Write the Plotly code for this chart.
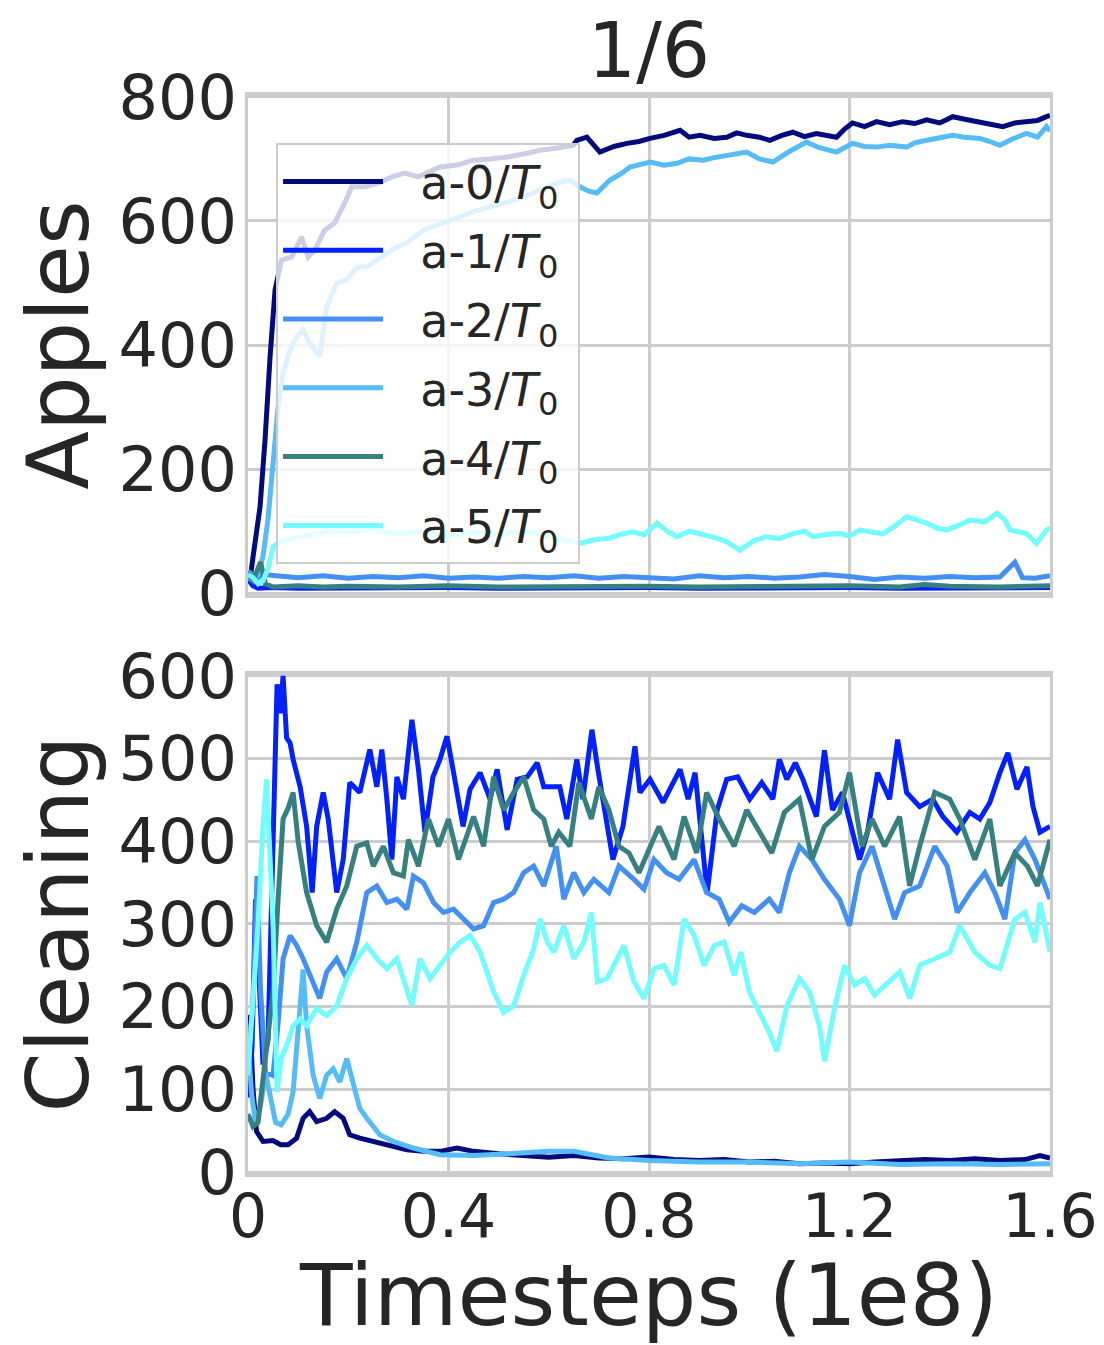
import plotly.graph_objects as go
from plotly.subplots import make_subplots

# ---------------- data ----------------
GAP = "\u2002\u2009"
AGENT_LABELS = [GAP + "a-%d/<i>T</i><sub>0</sub>\u00a0" % k for k in range(6)]
COLORS = ["#020a7c", "#0322fb", "#4490f2", "#55bcf8", "#387f7f", "#72fcfe"]

X_TICKS = [0, 0.4, 0.8, 1.2, 1.6]
X_TICK_TEXT = ["0", "0.4", "0.8", "1.2", "1.6"]
APPLES_TICKS = [0, 200, 400, 600, 800]
CLEANING_TICKS = [0, 100, 200, 300, 400, 500, 600]

# Apples (top panel): (timestep 1e8, value)
APPLES_A0 = [(0, 30), (0.005, 28), (0.01, 58), (0.017, 100), (0.024, 139), (0.034, 247), (0.04, 339),
             (0.044, 381), (0.054, 489), (0.067, 537), (0.087, 542), (0.107, 574), (0.12, 542),
             (0.133, 553), (0.153, 585), (0.173, 597), (0.193, 629), (0.207, 655), (0.233, 655),
             (0.26, 661), (0.287, 671), (0.313, 677), (0.34, 671), (0.383, 687), (0.417, 690),
             (0.45, 698), (0.483, 700), (0.517, 703), (0.55, 708), (0.583, 714), (0.62, 718),
             (0.649, 722), (0.656, 730), (0.676, 735), (0.702, 711), (0.73, 720), (0.756, 725),
             (0.78, 728), (0.802, 733), (0.83, 738), (0.862, 746), (0.88, 735), (0.902, 738),
             (0.93, 733), (0.955, 735), (0.975, 742), (0.995, 738), (1.02, 735), (1.041, 730),
             (1.065, 738), (1.087, 743), (1.11, 736), (1.134, 741), (1.155, 738), (1.174, 735),
             (1.19, 748), (1.206, 758), (1.23, 752), (1.254, 760), (1.28, 755), (1.306, 760),
             (1.33, 757), (1.354, 763), (1.38, 758), (1.406, 768), (1.43, 764), (1.454, 760),
             (1.48, 755), (1.506, 752), (1.53, 758), (1.553, 760), (1.575, 762), (1.593, 768), (1.6, 770)]
APPLES_A1 = [(0, 22), (0.01, 12), (0.02, 8), (0.05, 9), (0.1, 8), (0.2, 9), (0.3, 8), (0.4, 9),
             (0.5, 8), (0.6, 9), (0.7, 8), (0.8, 9), (0.9, 8), (1.0, 9), (1.1, 8), (1.2, 9),
             (1.3, 8), (1.4, 9), (1.5, 8), (1.6, 9)]
APPLES_A2 = [(0, 35), (0.01, 30), (0.02, 25), (0.03, 30), (0.05, 28), (0.1, 25), (0.15, 28), (0.2, 24),
             (0.25, 27), (0.3, 25), (0.35, 28), (0.4, 24), (0.45, 26), (0.5, 24), (0.55, 27), (0.6, 25),
             (0.65, 28), (0.7, 24), (0.75, 27), (0.8, 26), (0.85, 23), (0.9, 28), (0.95, 25), (1.0, 27),
             (1.05, 24), (1.1, 26), (1.15, 30), (1.2, 27), (1.25, 22), (1.3, 26), (1.35, 24), (1.4, 27),
             (1.45, 25), (1.5, 26), (1.53, 50), (1.545, 25), (1.57, 24), (1.6, 28)]
APPLES_A3 = [(0, 25), (0.01, 20), (0.02, 30), (0.03, 60), (0.04, 120), (0.05, 219), (0.06, 300),
             (0.07, 355), (0.084, 392), (0.097, 413), (0.11, 424), (0.123, 403), (0.143, 381),
             (0.157, 461), (0.177, 500), (0.197, 505), (0.217, 525), (0.237, 526), (0.263, 540),
             (0.29, 555), (0.317, 565), (0.35, 585), (0.383, 595), (0.417, 606), (0.45, 615),
             (0.483, 623), (0.517, 630), (0.55, 639), (0.583, 650), (0.616, 661), (0.642, 666),
             (0.662, 655), (0.68, 648), (0.696, 645), (0.722, 666), (0.742, 675), (0.762, 687),
             (0.782, 690), (0.802, 695), (0.83, 690), (0.856, 693), (0.88, 700), (0.908, 698),
             (0.93, 702), (0.955, 706), (0.975, 708), (0.995, 711), (1.02, 700), (1.047, 695),
             (1.08, 712), (1.114, 727), (1.14, 718), (1.174, 711), (1.206, 725), (1.23, 720),
             (1.254, 719), (1.28, 722), (1.314, 719), (1.33, 726), (1.354, 730), (1.38, 734),
             (1.406, 738), (1.43, 735), (1.46, 733), (1.48, 728), (1.5, 722), (1.525, 732),
             (1.553, 741), (1.575, 735), (1.593, 752), (1.6, 745)]
APPLES_A4 = [(0, 30), (0.01, 20), (0.025, 50), (0.035, 15), (0.05, 10), (0.1, 12), (0.15, 10), (0.2, 11),
             (0.3, 10), (0.4, 12), (0.5, 10), (0.6, 11), (0.7, 10), (0.8, 11), (0.9, 10), (1.0, 11),
             (1.1, 10), (1.2, 12), (1.3, 10), (1.35, 14), (1.4, 11), (1.5, 10), (1.6, 12)]
APPLES_A5 = [(0, 30), (0.01, 25), (0.02, 15), (0.03, 20), (0.04, 40), (0.05, 75), (0.07, 85), (0.1, 90),
             (0.13, 95), (0.16, 100), (0.2, 98), (0.25, 102), (0.3, 95), (0.35, 100), (0.4, 92),
             (0.45, 98), (0.5, 95), (0.55, 100), (0.6, 92), (0.64, 85), (0.662, 80), (0.69, 86),
             (0.722, 89), (0.745, 95), (0.768, 99), (0.79, 94), (0.816, 113), (0.836, 100),
             (0.856, 91), (0.88, 100), (0.902, 96), (0.93, 90), (0.955, 83), (0.981, 69), (1.01, 85),
             (1.035, 91), (1.06, 88), (1.087, 96), (1.11, 100), (1.127, 91), (1.155, 95), (1.181, 96),
             (1.2, 92), (1.221, 102), (1.245, 98), (1.267, 96), (1.29, 108), (1.314, 123), (1.334, 118),
             (1.354, 113), (1.374, 105), (1.394, 102), (1.42, 110), (1.44, 118), (1.47, 115),
             (1.494, 129), (1.51, 118), (1.52, 102), (1.553, 96), (1.573, 80), (1.593, 102), (1.6, 105)]

# Cleaning (bottom panel)
CLEAN_A0 = [(0, 190), (0.005, 170), (0.01, 100), (0.017, 49), (0.03, 37), (0.05, 38), (0.065, 33),
            (0.08, 33), (0.097, 41), (0.11, 65), (0.123, 73), (0.137, 61), (0.157, 65), (0.173, 73),
            (0.19, 65), (0.203, 45), (0.223, 41), (0.25, 37), (0.283, 33), (0.317, 27), (0.35, 25),
            (0.383, 25), (0.417, 29), (0.45, 25), (0.5, 22), (0.55, 20), (0.6, 18), (0.65, 20),
            (0.7, 17), (0.75, 16), (0.8, 18), (0.85, 15), (0.9, 14), (0.95, 15), (1.0, 12), (1.05, 13),
            (1.1, 10), (1.15, 11), (1.2, 10), (1.25, 12), (1.3, 14), (1.35, 15), (1.4, 14), (1.45, 16),
            (1.5, 14), (1.55, 15), (1.58, 20), (1.6, 17)]
CLEAN_A1 = [(0, 90), (0.008, 150), (0.015, 330), (0.022, 220), (0.03, 130), (0.04, 160), (0.05, 430),
            (0.058, 590), (0.064, 555), (0.07, 600), (0.077, 525), (0.084, 519), (0.09, 499),
            (0.104, 466), (0.117, 418), (0.128, 338), (0.137, 418), (0.15, 459), (0.16, 427),
            (0.177, 338), (0.19, 378), (0.203, 471), (0.223, 459), (0.243, 511), (0.257, 466),
            (0.267, 511), (0.277, 451), (0.287, 378), (0.297, 478), (0.31, 451), (0.327, 547),
            (0.34, 487), (0.353, 411), (0.369, 478), (0.383, 499), (0.397, 527), (0.409, 487),
            (0.429, 418), (0.443, 463), (0.463, 483), (0.483, 451), (0.497, 487), (0.517, 414),
            (0.537, 475), (0.557, 478), (0.577, 495), (0.59, 466), (0.622, 466), (0.636, 427),
            (0.656, 499), (0.668, 451), (0.686, 535), (0.698, 487), (0.716, 418), (0.728, 378),
            (0.748, 418), (0.772, 515), (0.782, 459), (0.802, 475), (0.828, 447), (0.862, 487),
            (0.878, 451), (0.892, 483), (0.916, 338), (0.936, 438), (0.955, 475), (0.977, 478),
            (1.001, 451), (1.025, 471), (1.047, 451), (1.06, 499), (1.075, 475), (1.092, 495),
            (1.107, 475), (1.134, 430), (1.15, 510), (1.166, 438), (1.186, 459), (1.22, 378),
            (1.236, 411), (1.256, 483), (1.28, 451), (1.296, 523), (1.314, 459), (1.34, 442),
            (1.366, 451), (1.386, 430), (1.414, 411), (1.44, 435), (1.46, 427), (1.48, 447),
            (1.5, 483), (1.516, 507), (1.534, 463), (1.554, 490), (1.566, 442), (1.58, 411), (1.6, 418)]
CLEAN_A2 = [(0, 150), (0.01, 200), (0.018, 358), (0.025, 220), (0.035, 120), (0.05, 117), (0.06, 180),
            (0.07, 258), (0.084, 286), (0.097, 274), (0.11, 258), (0.123, 238), (0.143, 210),
            (0.157, 242), (0.177, 258), (0.197, 234), (0.217, 278), (0.237, 338), (0.257, 346),
            (0.277, 326), (0.297, 330), (0.317, 318), (0.33, 358), (0.35, 350), (0.37, 326),
            (0.39, 314), (0.41, 318), (0.43, 306), (0.45, 294), (0.47, 298), (0.49, 326), (0.51, 330),
            (0.53, 338), (0.55, 362), (0.57, 370), (0.59, 346), (0.615, 394), (0.63, 330), (0.65, 362),
            (0.67, 338), (0.69, 354), (0.72, 338), (0.74, 370), (0.77, 354), (0.79, 342), (0.81, 378),
            (0.835, 362), (0.86, 354), (0.89, 378), (0.915, 338), (0.94, 330), (0.96, 302),
            (0.985, 322), (1.01, 314), (1.04, 330), (1.06, 314), (1.08, 362), (1.1, 394), (1.125, 378),
            (1.15, 354), (1.18, 330), (1.2, 298), (1.22, 362), (1.245, 394), (1.27, 346), (1.29, 306),
            (1.31, 338), (1.34, 346), (1.37, 394), (1.395, 370), (1.415, 314), (1.44, 338),
            (1.47, 362), (1.49, 338), (1.51, 306), (1.53, 386), (1.55, 402), (1.57, 378), (1.59, 346),
            (1.6, 330)]
CLEAN_A3 = [(0, 150), (0.008, 90), (0.015, 60), (0.025, 80), (0.035, 120), (0.045, 90), (0.055, 60),
            (0.066, 57), (0.08, 70), (0.09, 97), (0.1, 180), (0.11, 245), (0.117, 177), (0.13, 117),
            (0.143, 89), (0.157, 117), (0.17, 125), (0.183, 109), (0.197, 137), (0.21, 105),
            (0.223, 77), (0.237, 65), (0.263, 45), (0.29, 37), (0.33, 29), (0.383, 21), (0.45, 20),
            (0.52, 22), (0.6, 25), (0.65, 25), (0.72, 17), (0.8, 14), (0.9, 12), (1.0, 12), (1.1, 10),
            (1.2, 12), (1.3, 9), (1.4, 10), (1.5, 9), (1.6, 10)]
CLEAN_A4 = [(0, 70), (0.01, 55), (0.02, 60), (0.03, 110), (0.04, 160), (0.05, 218), (0.06, 330),
            (0.07, 427), (0.08, 440), (0.09, 459), (0.1, 400), (0.117, 338), (0.137, 298), (0.157, 278),
            (0.177, 318), (0.197, 346), (0.217, 394), (0.237, 398), (0.25, 370), (0.27, 394),
            (0.29, 362), (0.31, 358), (0.32, 402), (0.34, 370), (0.36, 427), (0.38, 394), (0.4, 427),
            (0.42, 378), (0.45, 430), (0.47, 394), (0.49, 478), (0.51, 438), (0.53, 459), (0.55, 478),
            (0.57, 438), (0.59, 427), (0.605, 394), (0.62, 411), (0.642, 394), (0.66, 471),
            (0.685, 427), (0.7, 466), (0.72, 438), (0.74, 394), (0.76, 386), (0.78, 362), (0.8, 390),
            (0.82, 418), (0.85, 378), (0.87, 430), (0.895, 386), (0.915, 459), (0.94, 427),
            (0.97, 394), (0.995, 438), (1.02, 411), (1.045, 386), (1.07, 435), (1.1, 451),
            (1.125, 378), (1.15, 418), (1.18, 435), (1.2, 483), (1.225, 394), (1.245, 427),
            (1.27, 394), (1.3, 430), (1.32, 346), (1.34, 394), (1.37, 459), (1.4, 451), (1.42, 427),
            (1.45, 378), (1.48, 427), (1.5, 346), (1.53, 386), (1.555, 370), (1.575, 346), (1.6, 402)]
CLEAN_A5 = [(0, 117), (0.01, 200), (0.02, 300), (0.03, 420), (0.037, 475), (0.044, 380), (0.05, 298),
            (0.058, 97), (0.066, 137), (0.08, 158), (0.09, 177), (0.104, 185), (0.117, 177),
            (0.137, 198), (0.157, 189), (0.177, 201), (0.197, 234), (0.217, 258), (0.237, 274),
            (0.257, 258), (0.277, 246), (0.297, 258), (0.317, 218), (0.327, 201), (0.343, 258),
            (0.363, 234), (0.383, 250), (0.403, 266), (0.423, 278), (0.443, 286), (0.463, 266),
            (0.49, 218), (0.51, 193), (0.53, 201), (0.55, 238), (0.57, 270), (0.583, 306),
            (0.597, 278), (0.61, 266), (0.63, 298), (0.65, 258), (0.67, 278), (0.685, 314),
            (0.697, 230), (0.716, 234), (0.736, 258), (0.75, 274), (0.77, 230), (0.79, 210),
            (0.81, 246), (0.83, 250), (0.85, 226), (0.87, 306), (0.89, 286), (0.91, 250), (0.93, 274),
            (0.95, 278), (0.97, 238), (0.983, 266), (1.0, 218), (1.02, 193), (1.04, 169), (1.055, 146),
            (1.075, 201), (1.1, 234), (1.12, 218), (1.14, 177), (1.15, 134), (1.17, 198), (1.19, 250),
            (1.21, 226), (1.23, 234), (1.25, 214), (1.27, 226), (1.3, 242), (1.32, 210), (1.34, 250),
            (1.37, 258), (1.4, 266), (1.42, 298), (1.45, 266), (1.48, 250), (1.5, 246), (1.53, 306),
            (1.55, 314), (1.57, 278), (1.58, 326), (1.6, 266)]

APPLES = [APPLES_A0, APPLES_A1, APPLES_A2, APPLES_A3, APPLES_A4, APPLES_A5]
CLEANING = [CLEAN_A0, CLEAN_A1, CLEAN_A2, CLEAN_A3, CLEAN_A4, CLEAN_A5]

# ---------------- figure ----------------
FONT = "DejaVu Sans"
TEXT = "#262626"
GRID = "#cccccc"
LW = 5

fig = make_subplots(rows=2, cols=1, shared_xaxes=True, vertical_spacing=0.0732)

for i, (label, color) in enumerate(zip(AGENT_LABELS, COLORS)):
    pts = APPLES[i]
    fig.add_trace(go.Scatter(x=[p[0] for p in pts], y=[p[1] for p in pts], mode="lines",
                             name=label, legendgroup=f"g{i}",
                             line=dict(color=color, width=LW)), row=1, col=1)
for i, (label, color) in enumerate(zip(AGENT_LABELS, COLORS)):
    pts = CLEANING[i]
    fig.add_trace(go.Scatter(x=[p[0] for p in pts], y=[p[1] for p in pts], mode="lines",
                             name=label, legendgroup=f"g{i}", showlegend=False,
                             line=dict(color=color, width=LW)), row=2, col=1)

axis_common = dict(showgrid=True, gridcolor=GRID, gridwidth=2.5, zeroline=False,
                   showline=True, linecolor=GRID, linewidth=2.5, mirror=True, ticks="")

fig.update_xaxes(range=[0, 1.6], tickvals=X_TICKS, ticktext=X_TICK_TEXT, automargin=False,
                 ticklabelstandoff=-12, tickfont=dict(family=FONT, size=60, color=TEXT),
                 **axis_common)
fig.update_xaxes(showticklabels=False, row=1, col=1)
fig.update_xaxes(title=dict(text="Timesteps (1e8)", font=dict(family=FONT, size=86, color=TEXT),
                            standoff=0), row=2, col=1)
fig.update_yaxes(ticklabelstandoff=-4, tickfont=dict(family=FONT, size=62, color=TEXT),
                 automargin=True, **axis_common)
fig.update_yaxes(range=[-3, 803], tickvals=APPLES_TICKS, domain=[0.5366, 1.0],
                 title=dict(text="Apples", font=dict(family=FONT, size=86, color=TEXT), standoff=28),
                 row=1, col=1)
fig.update_yaxes(range=[-2.4, 602.4], tickvals=CLEANING_TICKS, domain=[0.0, 0.4634],
                 title=dict(text="Cleaning", font=dict(family=FONT, size=86, color=TEXT), standoff=26),
                 row=2, col=1)

# page body carries an 8px margin, so the figure is drawn 8px smaller / offset
fig.update_layout(
    width=1096, height=1337,
    margin=dict(l=240, r=54, t=87, b=171),
    paper_bgcolor="white", plot_bgcolor="white",
    font=dict(family=FONT, color=TEXT),
    title=dict(text="1/6", x=(641 / 1096), xanchor="center", y=1 - 42 / 1337, yanchor="middle",
               font=dict(family=FONT, size=76, color=TEXT)),
    legend=dict(x=0.035, y=0.9555, xanchor="left", yanchor="top",
                bgcolor="rgba(255,255,255,0.8)", bordercolor=GRID, borderwidth=2,
                font=dict(family=FONT, size=46, color=TEXT),
                itemwidth=100, tracegroupgap=6, traceorder="grouped"),
    showlegend=True,
)

fig.write_html("out.html")
